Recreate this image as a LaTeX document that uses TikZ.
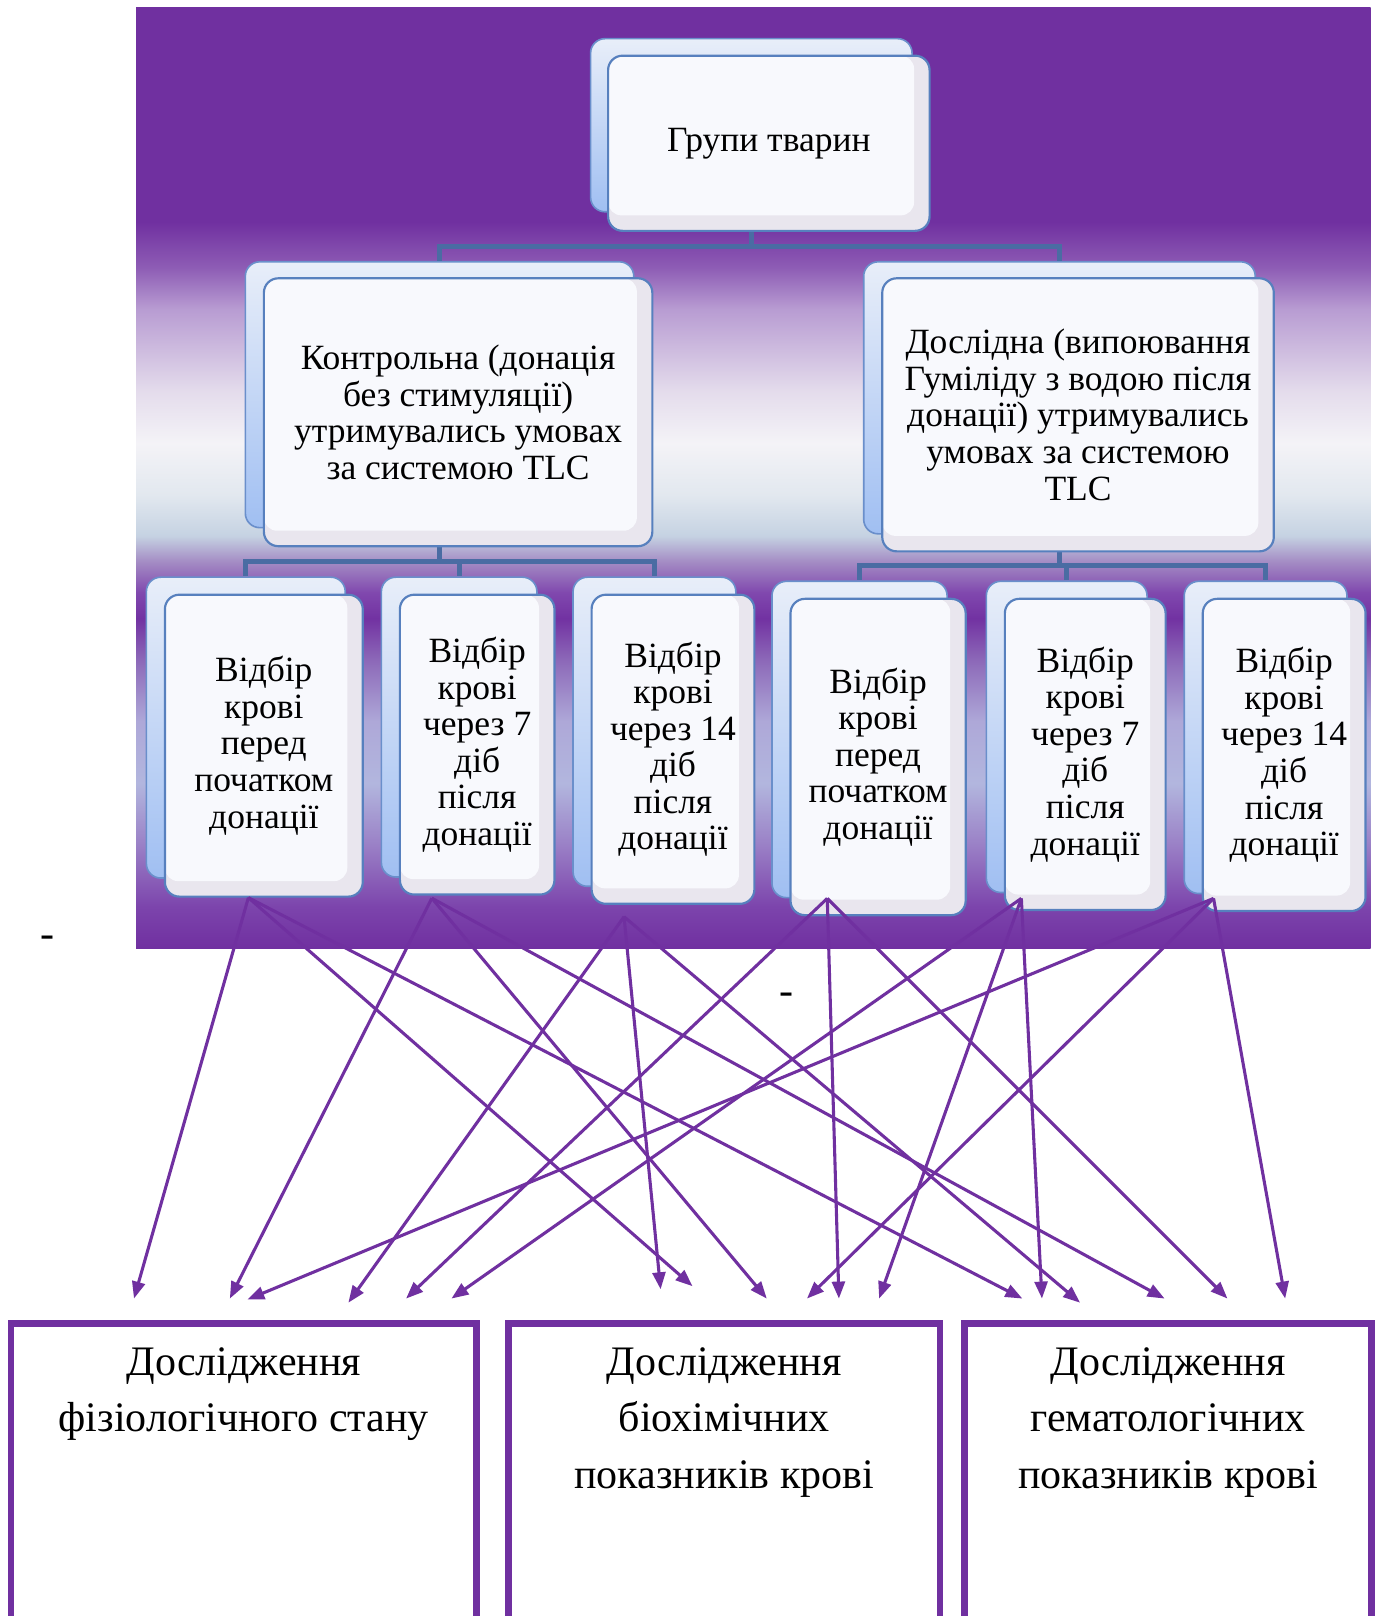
\documentclass[tikz,border=0pt]{standalone}
\usepackage{fontspec}
\setmainfont{Liberation Serif}
\usetikzlibrary{arrows.meta,calc}

\definecolor{pp}{HTML}{7030A0}
\definecolor{g260}{HTML}{8E5DB5}
\definecolor{g300}{HTML}{B89CD2}
\definecolor{g380}{HTML}{E4DCEC}
\definecolor{g430}{HTML}{F4F3F7}
\definecolor{g480}{HTML}{E2E8EF}
\definecolor{g520}{HTML}{C5D2E2}
\definecolor{g545}{HTML}{A48CC4}
\definecolor{g575}{HTML}{8048AE}
\definecolor{g600}{HTML}{7232A2}
\definecolor{g640}{HTML}{8C68B8}
\definecolor{g700}{HTML}{AEA8D8}
\definecolor{g760}{HTML}{B2B6DE}
\definecolor{g820}{HTML}{9A80C6}
\definecolor{g880}{HTML}{7C44AC}
\definecolor{bkline}{HTML}{6A8FCB}
\definecolor{bktop}{HTML}{E8EEF9}
\definecolor{bkbot}{HTML}{A0BFF2}
\definecolor{frline}{HTML}{5780BE}
\definecolor{fredge}{HTML}{E9E6EE}
\definecolor{frfill}{HTML}{F8F9FD}
\definecolor{cnline}{HTML}{4A6CA3}

\pgfdeclareverticalshading{panelshade}{100bp}{color(0bp)=(pp); color(25bp)=(pp); color(27.19bp)=(g880); color(30.48bp)=(g820); color(33.76bp)=(g760); color(37.05bp)=(g700); color(40.33bp)=(g640); color(42.52bp)=(g600); color(43.89bp)=(g575); color(45.54bp)=(g545); color(46.91bp)=(g520); color(49.10bp)=(g480); color(51.83bp)=(g430); color(54.57bp)=(g380); color(58.95bp)=(g300); color(61.14bp)=(g260); color(63.61bp)=(pp); color(100bp)=(pp)}

\newcommand{\lvlfont}{\fontsize{19.6pt}{20.2pt}\selectfont}
\newcommand{\resfont}{\fontsize{23.2pt}{31.3pt}\selectfont}

\tikzset{
  backbox/.style={draw=bkline, line width=0.9pt, rounded corners=0.28cm, top color=bktop, bottom color=bkbot, inner sep=0pt},
  frontbox/.style={draw=frline, line width=1.2pt, rounded corners=0.28cm, fill=fredge, inner sep=0pt, align=center, font=\lvlfont,
    path picture={\fill[frfill, rounded corners=0.26cm] (path picture bounding box.north west) rectangle ([xshift=-0.3cm, yshift=0.3cm]path picture bounding box.south east);}},
  conn/.style={draw=cnline, line width=2.8pt},
  arr/.style={draw=pp, line width=1.7pt, -{Triangle[length=0.33cm, width=0.25cm]}},
  resbox/.style={draw=pp, line width=3.6pt, inner sep=0pt},
  restext/.style={font=\resfont, align=center, inner sep=0pt},
}

\begin{document}
\begin{tikzpicture}[x=0.02cm, y=-0.02cm]
\path[use as bounding box] (0,0) rectangle (1340,1568);
\clip (0,0) rectangle (1340,1568);
\fill[white] (0,0) rectangle (1340,1568);

% background panel
\path[shading=panelshade] (132,7) rectangle (1330,920);

% back boxes
\node[backbox, minimum width=6.24cm, minimum height=3.36cm] (tb) at (729,121.5) {};
\node[backbox, minimum width=7.54cm, minimum height=5.16cm] (lb) at (426.5,383) {};
\node[backbox, minimum width=7.6cm, minimum height=5.28cm] (rb) at (1028,386) {};
\node[backbox, minimum width=3.86cm, minimum height=5.84cm] (l1b) at (238.5,706) {};
\node[backbox, minimum width=3.02cm, minimum height=5.82cm] (l2b) at (445.5,705.5) {};
\node[backbox, minimum width=3.16cm, minimum height=6.0cm] (l3b) at (635,710) {};
\node[backbox, minimum width=3.4cm, minimum height=6.14cm] (r1b) at (834,717.5) {};
\node[backbox, minimum width=3.12cm, minimum height=6.04cm] (r2b) at (1035,715) {};
\node[backbox, minimum width=3.16cm, minimum height=6.06cm] (r3b) at (1228,715.5) {};

% connectors
\draw[conn] (tb.south) -- ++(0,32.5) -| (lb.north);
\draw[conn] (tb.south) -- ++(0,32.5) -| (rb.north);
\draw[conn] (lb.south) -- ++(0,32) -| (l1b.north);
\draw[conn] (lb.south) -- ++(0,32) -| (l2b.north);
\draw[conn] (lb.south) -- ++(0,32) -| (l3b.north);
\draw[conn] (rb.south) -- ++(0,30) -| (r1b.north);
\draw[conn] (rb.south) -- ++(0,30) -| (r2b.north);
\draw[conn] (rb.south) -- ++(0,30) -| (r3b.north);

% front boxes
\node[frontbox, minimum width=6.24cm, minimum height=3.4cm] (t) at (746,139) {Групи тварин};
\node[frontbox, minimum width=7.54cm, minimum height=5.2cm] (l) at (444.5,400) {Контрольна (донація\\без стимуляції)\\утримувались умовах\\за системою TLC};
\node[frontbox, minimum width=7.6cm, minimum height=5.3cm] (r) at (1046,402.5) {Дослідна (випоювання\\Гуміліду з водою після\\донації) утримувались\\умовах за системою\\TLC};
\node[frontbox, minimum width=3.84cm, minimum height=5.86cm] (l1) at (256,723.5) {Відбір\\крові\\перед\\початком\\донації};
\node[frontbox, minimum width=3.0cm, minimum height=5.82cm] (l2) at (463,722.5) {Відбір\\крові\\через 7\\діб\\після\\донації};
\node[frontbox, minimum width=3.16cm, minimum height=6.0cm] (l3) at (653,727) {Відбір\\крові\\через 14\\діб\\після\\донації};
\node[frontbox, minimum width=3.4cm, minimum height=6.14cm] (r1) at (852,734.5) {Відбір\\крові\\перед\\початком\\донації};
\node[frontbox, minimum width=3.12cm, minimum height=6.04cm] (r2) at (1053,732) {Відбір\\крові\\через 7\\діб\\після\\донації};
\node[frontbox, minimum width=3.16cm, minimum height=6.06cm] (r3) at (1246,732.5) {Відбір\\крові\\через 14\\діб\\після\\донації};

% result boxes
\node[resbox, minimum width=9.04cm, minimum height=7.11cm] (b1) at (236.5,1462) {};
\node[resbox, minimum width=8.37cm, minimum height=7.11cm] (b2) at (702.75,1462) {};
\node[resbox, minimum width=7.9cm, minimum height=7.11cm] (b3) at (1133.5,1462) {};
\node[restext, anchor=north] (b1t) at (236.5,1307) {Дослідження\\фізіологічного стану};
\node[restext, anchor=north] (b2t) at (702.75,1307) {Дослідження\\біохімічних\\показників крові};
\node[restext, anchor=north] (b3t) at (1133.5,1307) {Дослідження\\гематологічних\\показників крові};

% dashes
\node[restext] (d1) at (46.3,914) {-};
\node[restext] (d2) at (762.7,969.5) {-};

% arrow sources
\coordinate (s1) at (241,871);
\coordinate (s2) at (419,871.5);
\coordinate (s3) at (605.5,889.5);
\coordinate (s4) at (802.7,871.7);
\coordinate (s5) at (991,871.7);
\coordinate (s6) at (1177.5,871.7);
% arrow targets
\coordinate (a11) at (130,1260);
\coordinate (a12) at (672,1248);
\coordinate (a13) at (992,1260);
\coordinate (a21) at (223,1260);
\coordinate (a22) at (744,1260);
\coordinate (a23) at (1130,1260);
\coordinate (a31) at (338,1264);
\coordinate (a32) at (641,1251);
\coordinate (a33) at (1048,1264);
\coordinate (a41) at (394,1260);
\coordinate (a42) at (814,1260);
\coordinate (a43) at (1191,1260);
\coordinate (a51) at (438,1260);
\coordinate (a52) at (853,1260);
\coordinate (a53) at (1011,1260);
\coordinate (a61) at (240,1261);
\coordinate (a62) at (783,1260);
\coordinate (a63) at (1247,1260);

\foreach \s in {1,...,6}{
  \foreach \t in {1,2,3}{
    \draw[arr] (s\s) -- (a\s\t);
  }
}
\end{tikzpicture}
\end{document}
